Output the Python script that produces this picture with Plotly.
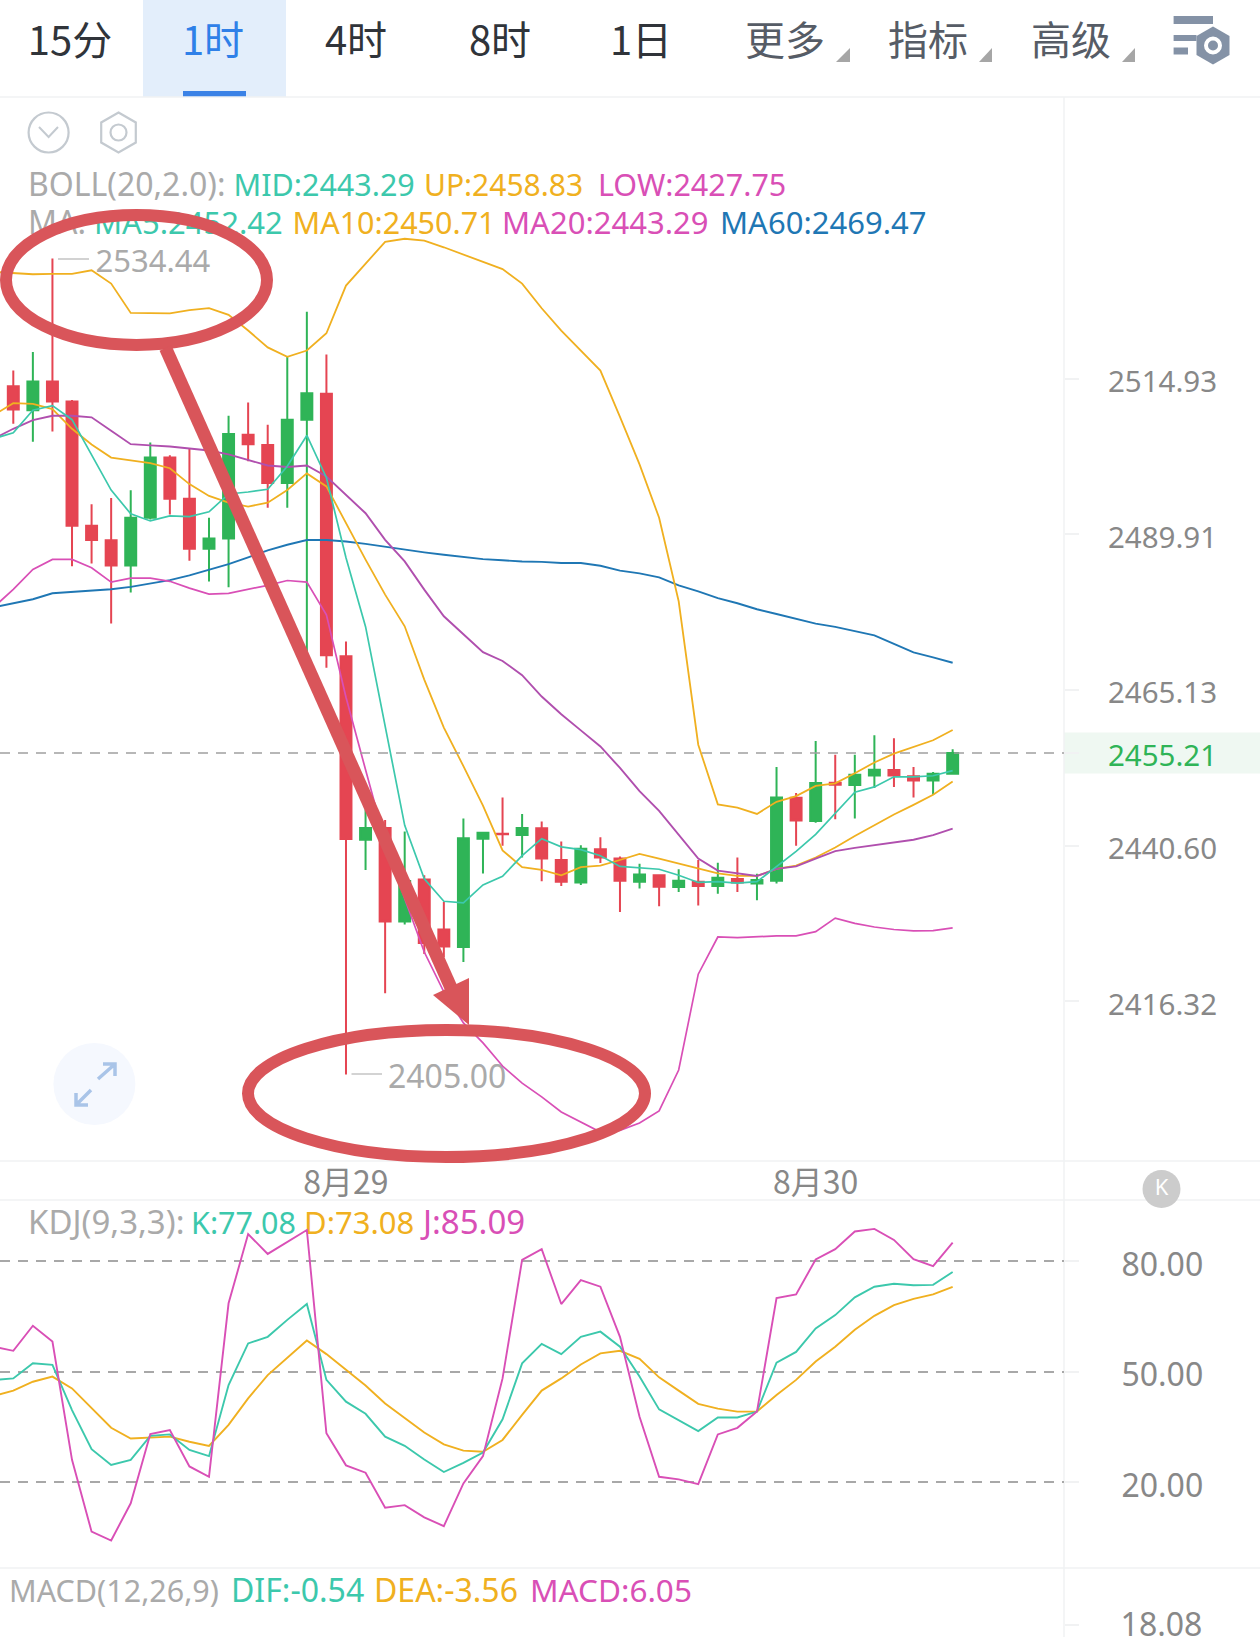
import math
import plotly.graph_objects as go

# ---------- data ----------
idx_lines = list(range(-1, 49))
idx_candles = list(range(0, 49))

open_ = [2513.72,2509.85,2514.49,2511.25,2491.31,2488.96,2484.96,2492.58,2502.23,2495.63,2487.62,2489.27,2505.9,2504.26,2498.17,2508.33,2512.52,2470.49,2441.55,2443.4,2428.74,2435.31,2427.5,2424.78,2441.7,2442.5,2442.3,2443.36,2438.37,2434.86,2440.04,2438.6,2434.97,2435.97,2434.14,2434.97,2434.3,2435.4,2434.7,2435.14,2448.16,2444.49,2450.52,2450.13,2451.65,2452.5,2451.54,2450.86,2451.9]
close = [2509.98,2514.49,2511.25,2491.31,2489.02,2484.96,2492.58,2502.23,2495.63,2487.62,2489.27,2506.04,2504.39,2498.17,2508.33,2512.58,2470.65,2441.67,2443.4,2428.74,2435.1,2425.39,2424.84,2441.77,2442.66,2442.4,2443.4,2438.6,2434.97,2440.15,2438.76,2435.14,2436.1,2434.19,2435.14,2434.3,2435.59,2434.86,2435.25,2448.2,2444.55,2450.47,2450.18,2451.77,2452.55,2451.65,2450.86,2451.9,2455.21]
high = [2516.26,2519.25,2534.44,2511.5,2494.74,2495.75,2497.0,2504.64,2502.6,2503.69,2492.58,2508.96,2511.12,2507.5,2518.6,2525.79,2518.87,2472.86,2446.35,2444.66,2442.83,2436.0,2431.8,2444.9,2442.7,2448.2,2445.6,2444.4,2441.27,2440.7,2441.94,2438.93,2437.8,2435.97,2436.92,2438.37,2437.93,2438.76,2436.2,2453.0,2448.9,2457.07,2454.92,2454.92,2458.0,2457.5,2453.0,2452.2,2455.8]
low = [2507.69,2504.77,2506.42,2484.83,2485.28,2475.7,2480.64,2492.3,2493.09,2485.7,2482.4,2481.47,2501.66,2494.17,2494.17,2471.2,2468.67,2405.0,2436.8,2417.6,2428.3,2423.7,2423.2,2422.44,2436.25,2440.6,2438.76,2435.03,2434.3,2434.47,2437.9,2430.24,2433.9,2431.13,2433.36,2431.24,2433.08,2433.36,2432.08,2434.7,2440.6,2444.2,2444.77,2444.88,2449.68,2449.85,2448.2,2448.6,2451.9]

boll_up = [2532.27,2532.08,2531.88,2531.95,2531.95,2532.52,2530.36,2525.6,2525.53,2525.53,2526.04,2526.36,2525.28,2522.74,2520.01,2518.49,2519.5,2522.3,2530.04,2533.54,2537.16,2537.66,2537.35,2536.27,2535.12,2533.85,2532.71,2530.36,2526.36,2522.74,2519.57,2516.26,2508.77,2501.15,2492.58,2479.24,2456.5,2447.1,2446.6,2445.6,2447.5,2448.4,2450.0,2450.4,2452.0,2453.7,2455.1,2456.1,2457.2,2458.83]
boll_low = [2478.29,2481.15,2484.32,2485.91,2485.91,2484.58,2482.29,2482.93,2482.93,2482.42,2481.34,2480.39,2480.51,2481.15,2481.78,2482.55,2482.29,2477.1,2464.0,2452.55,2441.27,2432.36,2424.0,2417.8,2412.98,2409.88,2406.31,2403.67,2401.55,2399.22,2397.67,2396.11,2396.38,2397.51,2399.37,2405.69,2420.55,2426.34,2426.23,2426.4,2426.51,2426.51,2427.18,2429.29,2428.46,2427.9,2427.51,2427.29,2427.34,2427.75]
ma20_mid = [2505.28,2506.87,2508.26,2508.96,2508.96,2508.71,2506.55,2504.39,2504.2,2504.01,2503.69,2503.37,2502.74,2501.79,2500.96,2500.71,2500.96,2499.2,2496.27,2493.3,2489.05,2485.6,2481.1,2476.85,2474.0,2471.16,2469.75,2467.5,2464.11,2461.3,2458.76,2456.22,2452.83,2449.17,2446.07,2442.4,2438.6,2436.7,2436.26,2435.87,2436.98,2437.37,2438.6,2439.76,2440.27,2440.7,2441.2,2441.54,2442.27,2443.29]
ma5 = [2505.28,2506.23,2509.85,2510.61,2508.33,2502.74,2497.02,2493.21,2492.07,2492.89,2492.77,2493.53,2496.39,2496.71,2497.15,2500.83,2505.79,2499.0,2486.19,2475.2,2459.36,2443.81,2435.42,2431.91,2431.68,2434.47,2435.81,2439.04,2441.72,2440.43,2439.99,2439.04,2437.37,2437.2,2436.92,2435.98,2434.86,2434.97,2434.75,2434.97,2437.37,2439.71,2442.4,2445.78,2449.0,2449.85,2451.43,2451.43,2451.6,2452.42]
ma10 = [2509.09,2510.99,2510.87,2510.04,2506.87,2504.33,2502.23,2501.79,2501.34,2500.52,2497.97,2496.07,2495.0,2494.36,2495.0,2497.02,2499.69,2497.6,2491.7,2485.87,2480.3,2475.26,2466.8,2459.2,2453.12,2446.91,2439.88,2437.26,2436.82,2435.98,2437.26,2437.48,2438.37,2439.32,2438.6,2437.81,2436.98,2436.26,2435.87,2435.87,2436.98,2437.48,2438.76,2440.32,2442.12,2443.81,2445.5,2447.03,2448.6,2450.71]
ma60 = [2478.29,2478.9,2479.56,2480.51,2480.7,2480.89,2481.15,2481.53,2482.1,2482.61,2483.37,2484.26,2485.15,2486.23,2487.37,2488.26,2489.02,2489.02,2488.77,2488.39,2487.94,2487.43,2487.05,2486.67,2486.29,2485.97,2485.78,2485.59,2485.53,2485.34,2485.34,2484.9,2484.13,2483.69,2483.05,2481.78,2480.83,2479.75,2478.93,2477.97,2477.21,2476.45,2475.68,2475.17,2474.55,2473.82,2472.46,2471.1,2470.32,2469.47]

kdj_k = [47.8,48.2,52.3,51.9,39.6,29.0,24.7,26.1,32.6,33.0,28.8,27.1,46.4,57.7,59.5,64.1,68.4,47.8,41.9,38.6,32.4,29.9,26.2,22.8,25.3,28.1,37.1,52.3,57.6,54.8,59.5,60.9,56.8,48.7,39.8,36.9,33.9,37.6,37.6,39.2,52.5,55.4,61.8,65.4,70.2,73.1,73.9,73.5,73.6,77.08]
kdj_d = [43.4,44.9,47.3,48.7,45.5,40.1,34.8,31.9,32.1,32.4,31.0,29.9,35.6,42.8,49.1,53.9,58.5,54.8,50.5,46.3,41.4,37.4,33.5,30.3,28.6,28.3,31.5,38.3,44.9,48.2,52.0,55.0,55.7,53.5,48.5,44.9,41.3,40.0,39.2,39.2,43.7,47.8,52.8,56.8,61.4,65.2,68.1,69.8,71.0,73.08]
kdj_j = [56.8,55.7,62.5,58.2,26.1,6.6,4.2,14.3,33.1,34.2,24.3,21.5,68.6,87.4,82.0,85.2,88.5,33.3,24.6,22.6,13.1,13.8,10.5,8.1,19.7,27.1,48.2,80.4,83.3,68.4,74.9,73.1,59.5,37.8,21.5,20.8,19.5,33.0,34.8,39.2,70.0,71.0,80.5,83.3,88.1,88.8,85.8,80.6,78.7,85.09]

price_ticks = [2514.93, 2489.91, 2465.13, 2455.21, 2440.60, 2416.32]
kdj_ticks = [80, 50, 20]
macd_ticks = [18.08]
date_ticks = [17, 41]
date_labels = ["8月29", "8月30"]
last_price = 2455.21

tabs_dark = ["15分", "4时", "8时", "1日"]
tabs_menu = ["更多", "指标", "高级"]

# ---------- style ----------
W, H = 1260, 1637
TEAL, ORANGE, MAGENTA, BLUE = "#3cc8ac", "#f0b020", "#d94fb6", "#1f77b4"
PURPLE = "#b04fae"
RED, GREEN = "#e54552", "#2fb457"
MARK = "#d9555a"
GRAY, AXIS = "#aaaaaa", "#888888"
FONT = "Noto Sans, Noto Sans CJK SC, sans-serif"
CJK = "Noto Sans CJK SC, Noto Sans, sans-serif"
DIV = "#f1f2f3"

PANE_R = 1064
X0, DX = 13.3, 19.57
PANE1 = (97, 1161)
PANE2 = (1200, 1568)
PANE3 = (1568, 1637)


def dom(p):
    return [1 - p[1] / H, 1 - p[0] / H]


xrange_ = [(0 - X0) / DX, (PANE_R - X0) / DX]
# main price pane is logarithmic
lg_ref = math.log10(2514.93)
lg_per_px = math.log10(2514.93 / 2416.32) / (1001.4 - 378.8)
yrange1 = [lg_ref - (PANE1[1] - 378.8) * lg_per_px, lg_ref + (378.8 - PANE1[0]) * lg_per_px]
# KDJ
per_px = 30 / 110.5
yrange2 = [20 - (PANE2[1] - 1482.3) * per_px, 80 + (1261.3 - PANE2[0]) * per_px]
yrange3 = [18.08 - 12 * 0.1, 18.08 + 57 * 0.1]

fig = go.Figure()


def txt(x, y, s, color, size=31, pos="middle right", font=FONT):
    fig.add_trace(go.Scatter(x=[x], y=[y], text=[s], mode="text", textposition=pos,
                             textfont=dict(color=color, size=size, family=font),
                             xaxis="x", yaxis="y", hoverinfo="skip", showlegend=False, cliponaxis=False))


# overlay page-space texts (first subplot, below the charts)
for s, x in zip(tabs_dark, [70, 356, 500, 641]):
    txt(x, 45, s, "#30343a", 40, "middle center", CJK)
txt(213, 45, "1时", "#2f80e8", 40, "middle center", CJK)
for s, x in zip(tabs_menu, [785, 928, 1071]):
    txt(x, 45, s, "#565c66", 40, "middle center", CJK)

txt(28, 188, "BOLL(20,2.0):", GRAY, 32)
txt(233.5, 188, "MID:2443.29", TEAL, 30.5)
txt(424, 188, "UP:2458.83", ORANGE, 30)
txt(598, 188, "LOW:2427.75", MAGENTA, 30.5)
txt(28, 226, "MA:", GRAY, 32)
txt(94, 226, "MA5:2452.42", TEAL, 31)
txt(292.5, 226, "MA10:2450.71", ORANGE, 30.5)
txt(502, 226, "MA20:2443.29", MAGENTA, 31)
txt(720, 226, "MA60:2469.47", BLUE, 31)
txt(95.5, 264, "2534.44", GRAY, 31)
txt(388, 1080, "2405.00", GRAY, 32)
txt(28, 1226, "KDJ(9,3,3):", GRAY, 33)
txt(191, 1226, "K:77.08", TEAL, 30.5)
txt(304, 1226, "D:73.08", ORANGE, 31)
txt(423, 1226, "J:85.09", MAGENTA, 33)
txt(9, 1594, "MACD(12,26,9)", GRAY, 30.5)
txt(231, 1594, "DIF:-0.54", TEAL, 32)
txt(374, 1594, "DEA:-3.56", ORANGE, 32)
txt(530, 1594, "MACD:6.05", MAGENTA, 31.5)
txt(1161.5, 1189, "K", "#ffffff", 22, "middle center")
txt(1161.5, 1628, "18.08", AXIS, 32, "middle center")

# candles
fig.add_trace(go.Candlestick(x=idx_candles, open=open_, high=high, low=low, close=close,
                             xaxis="x2", yaxis="y2", showlegend=False, hoverinfo="skip",
                             increasing=dict(line=dict(color=GREEN, width=2), fillcolor=GREEN),
                             decreasing=dict(line=dict(color=RED, width=2), fillcolor=RED)))


def line(y, color, xa, ya, width=1.7):
    fig.add_trace(go.Scatter(x=idx_lines, y=y, mode="lines", line=dict(color=color, width=width),
                             xaxis=xa, yaxis=ya, hoverinfo="skip", showlegend=False))


line(ma60, BLUE, "x2", "y2", 1.9)
line(boll_low, MAGENTA, "x2", "y2")
line(boll_up, ORANGE, "x2", "y2", 1.8)
line(ma10, ORANGE, "x2", "y2", 1.8)
line(ma20_mid, PURPLE, "x2", "y2", 1.9)
line(ma5, TEAL, "x2", "y2")

line(kdj_d, ORANGE, "x3", "y3", 1.9)
line(kdj_k, TEAL, "x3", "y3", 1.9)
line(kdj_j, MAGENTA, "x3", "y3", 1.9)

# empty MACD pane carrier
fig.add_trace(go.Scatter(x=[None], y=[None], xaxis="x4", yaxis="y4", hoverinfo="skip", showlegend=False))


def rect(x0, y0, x1, y1, fill, layer="below"):
    return dict(type="rect", xref="x", yref="y", x0=x0, y0=y0, x1=x1, y1=y1, fillcolor=fill,
                line=dict(width=0), layer=layer)


def seg(x0, y0, x1, y1, color=DIV, w=1.5, layer="below"):
    return dict(type="line", xref="x", yref="y", x0=x0, y0=y0, x1=x1, y1=y1,
                line=dict(color=color, width=w), layer=layer)


def poly(d, fill=None, color=None, w=0, layer="above"):
    return dict(type="path", xref="x", yref="y", path=d, fillcolor=fill or "rgba(0,0,0,0)",
                line=dict(color=color or "rgba(0,0,0,0)", width=w), layer=layer)


def hexagon(cx, cy, r):
    pts = [(cx + r * math.cos(math.radians(a)), cy + r * math.sin(math.radians(a))) for a in range(-90, 270, 60)]
    return "M" + " L".join(f"{a:.1f},{b:.1f}" for a, b in pts) + " Z"


def circle(cx, cy, r, fill="rgba(0,0,0,0)", color="rgba(0,0,0,0)", w=0, layer="above"):
    return dict(type="circle", xref="x", yref="y", x0=cx - r, x1=cx + r, y0=cy - r, y1=cy + r,
                fillcolor=fill, line=dict(color=color, width=w), layer=layer)


ICON = "#c4cad0"
SET = "#8492a6"
shapes = [
    rect(143, 0, 286, 97, "#e3eefb"),
    rect(183, 91, 246, 97, "#3b82e6"),
    rect(PANE_R, 732.5, W, 773.6, "#eff8f2"),
    seg(0, 97, W, 97),
    seg(0, 1161, W, 1161),
    seg(0, 1200, W, 1200),
    seg(0, 1568, W, 1568),
    seg(PANE_R, 97, PANE_R, H),
    circle(48.6, 132.5, 20, color=ICON, w=2.2),
    poly("M39,127 L48.6,137 L58,127", color=ICON, w=2),
    poly(hexagon(118.5, 132.5, 20), color=ICON, w=2.2),
    circle(118.5, 132.5, 8, color=ICON, w=2.2),
    # settings icon
    rect(1173.6, 16, 1213, 24, SET, "above"),
    rect(1173.6, 35, 1196.5, 41, SET, "above"),
    rect(1173.6, 47.5, 1188, 54.5, SET, "above"),
    poly(hexagon(1213, 45.5, 19), fill=SET),
    circle(1213, 45.5, 9, fill="#ffffff"),
    circle(1213, 45.5, 5, fill=SET),
    # menu triangles
    poly("M850,48 L850,62 L836,62 Z", fill="#a6a6a6"),
    poly("M992,48 L992,62 L979,62 Z", fill="#a6a6a6"),
    poly("M1135,48 L1135,62 L1122,62 Z", fill="#a6a6a6"),
    # extreme label leaders
    seg(58, 259, 89, 259, "#b5b5b5", 1.2, "above"),
    seg(351.5, 1074, 382, 1074, "#b5b5b5", 1.2, "above"),
    # last price dashed line
    dict(type="line", xref="x2 domain", yref="y2", x0=0, x1=1, y0=last_price, y1=last_price,
         line=dict(color="#a0a0a0", width=1.5, dash="10px,8px"), layer="above"),
    # expand bubble
    circle(94.4, 1084, 41, fill="#f5f8fe", layer="above"),
    poly("M98,1079 L115,1064 M103,1064 L115,1064 L115,1076", color="#a9c4e8", w=3.5),
    poly("M91,1090 L76,1105 M76,1093 L76,1105 L88,1105", color="#a9c4e8", w=3.5),
    # K button
    circle(1161.5, 1189, 19, fill="#cccccc", layer="below"),
    # hand-drawn marks
    dict(type="circle", xref="x", yref="y", x0=6, x1=267, y0=215, y1=345,
         line=dict(color=MARK, width=12), fillcolor="rgba(0,0,0,0)", layer="above"),
    dict(type="circle", xref="x", yref="y", x0=248, x1=645, y0=1030, y1=1157,
         line=dict(color=MARK, width=12), fillcolor="rgba(0,0,0,0)", layer="above"),
    seg(165.5, 348, 452, 990, MARK, 13, "above"),
    poly("M469,978 L433,995 L469,1025 Z", fill=MARK),
]

ax_off = dict(visible=False, fixedrange=True)
ax_pane = dict(showgrid=False, zeroline=False, showline=False, fixedrange=True, rangeslider=dict(visible=False))
price_text = [f'<span style="color:{GREEN}">{v:.2f}</span>' if v == last_price else f"{v:.2f}" for v in price_ticks]
ytick = dict(side="right", showgrid=False, zeroline=False, showline=False, ticks="outside", ticklen=14,
             tickcolor=DIV, tickwidth=1.5, fixedrange=True, ticklabelshift=3)
tf2 = dict(color=AXIS, size=29.5, family=FONT)
tf3 = dict(color=AXIS, size=32, family=FONT)

fig.update_layout(
    width=W, height=H, margin=dict(l=0, r=0, t=0, b=0), autosize=False,
    paper_bgcolor="#ffffff", plot_bgcolor="rgba(0,0,0,0)", showlegend=False, hovermode=False,
    boxgap=0.44, boxgroupgap=0, shapes=shapes,
    xaxis=dict(domain=[0, 1], range=[0, W], **ax_off),
    yaxis=dict(domain=[0, 1], range=[H, 0], **ax_off),
    xaxis2=dict(domain=[0, PANE_R / W], range=xrange_, anchor="y2", tickmode="array", tickvals=date_ticks,
                ticktext=date_labels, ticks="",
                tickfont=dict(color=AXIS, size=32, family=CJK), **ax_pane),
    yaxis2=dict(domain=dom(PANE1), type="log", range=yrange1, anchor="x2", tickmode="array",
                tickvals=price_ticks, ticktext=price_text, ticklabelstandoff=23, tickfont=tf2, **ytick),
    xaxis3=dict(domain=[0, PANE_R / W], range=xrange_, anchor="y3", showticklabels=False, ticks="", **ax_pane),
    yaxis3=dict(domain=dom(PANE2), range=yrange2, anchor="x3", tickmode="array", tickvals=kdj_ticks,
                ticktext=[f"{v:.2f}" for v in kdj_ticks], ticklabelstandoff=36, tickfont=tf3,
                **{**ytick, "showgrid": True, "gridcolor": "#a8a8a8", "griddash": "10px,8px", "gridwidth": 1.5}),
    xaxis4=dict(domain=[0, PANE_R / W], range=xrange_, anchor="y4", showticklabels=False, ticks="", **ax_pane),
    yaxis4=dict(domain=dom(PANE3), range=yrange3, anchor="x4", tickmode="array", tickvals=macd_ticks,
                showticklabels=False, **ytick),
)

fig.write_html("out.html", post_script="document.body.style.margin='0';document.body.style.overflow='hidden';",
               config=dict(displayModeBar=False))
